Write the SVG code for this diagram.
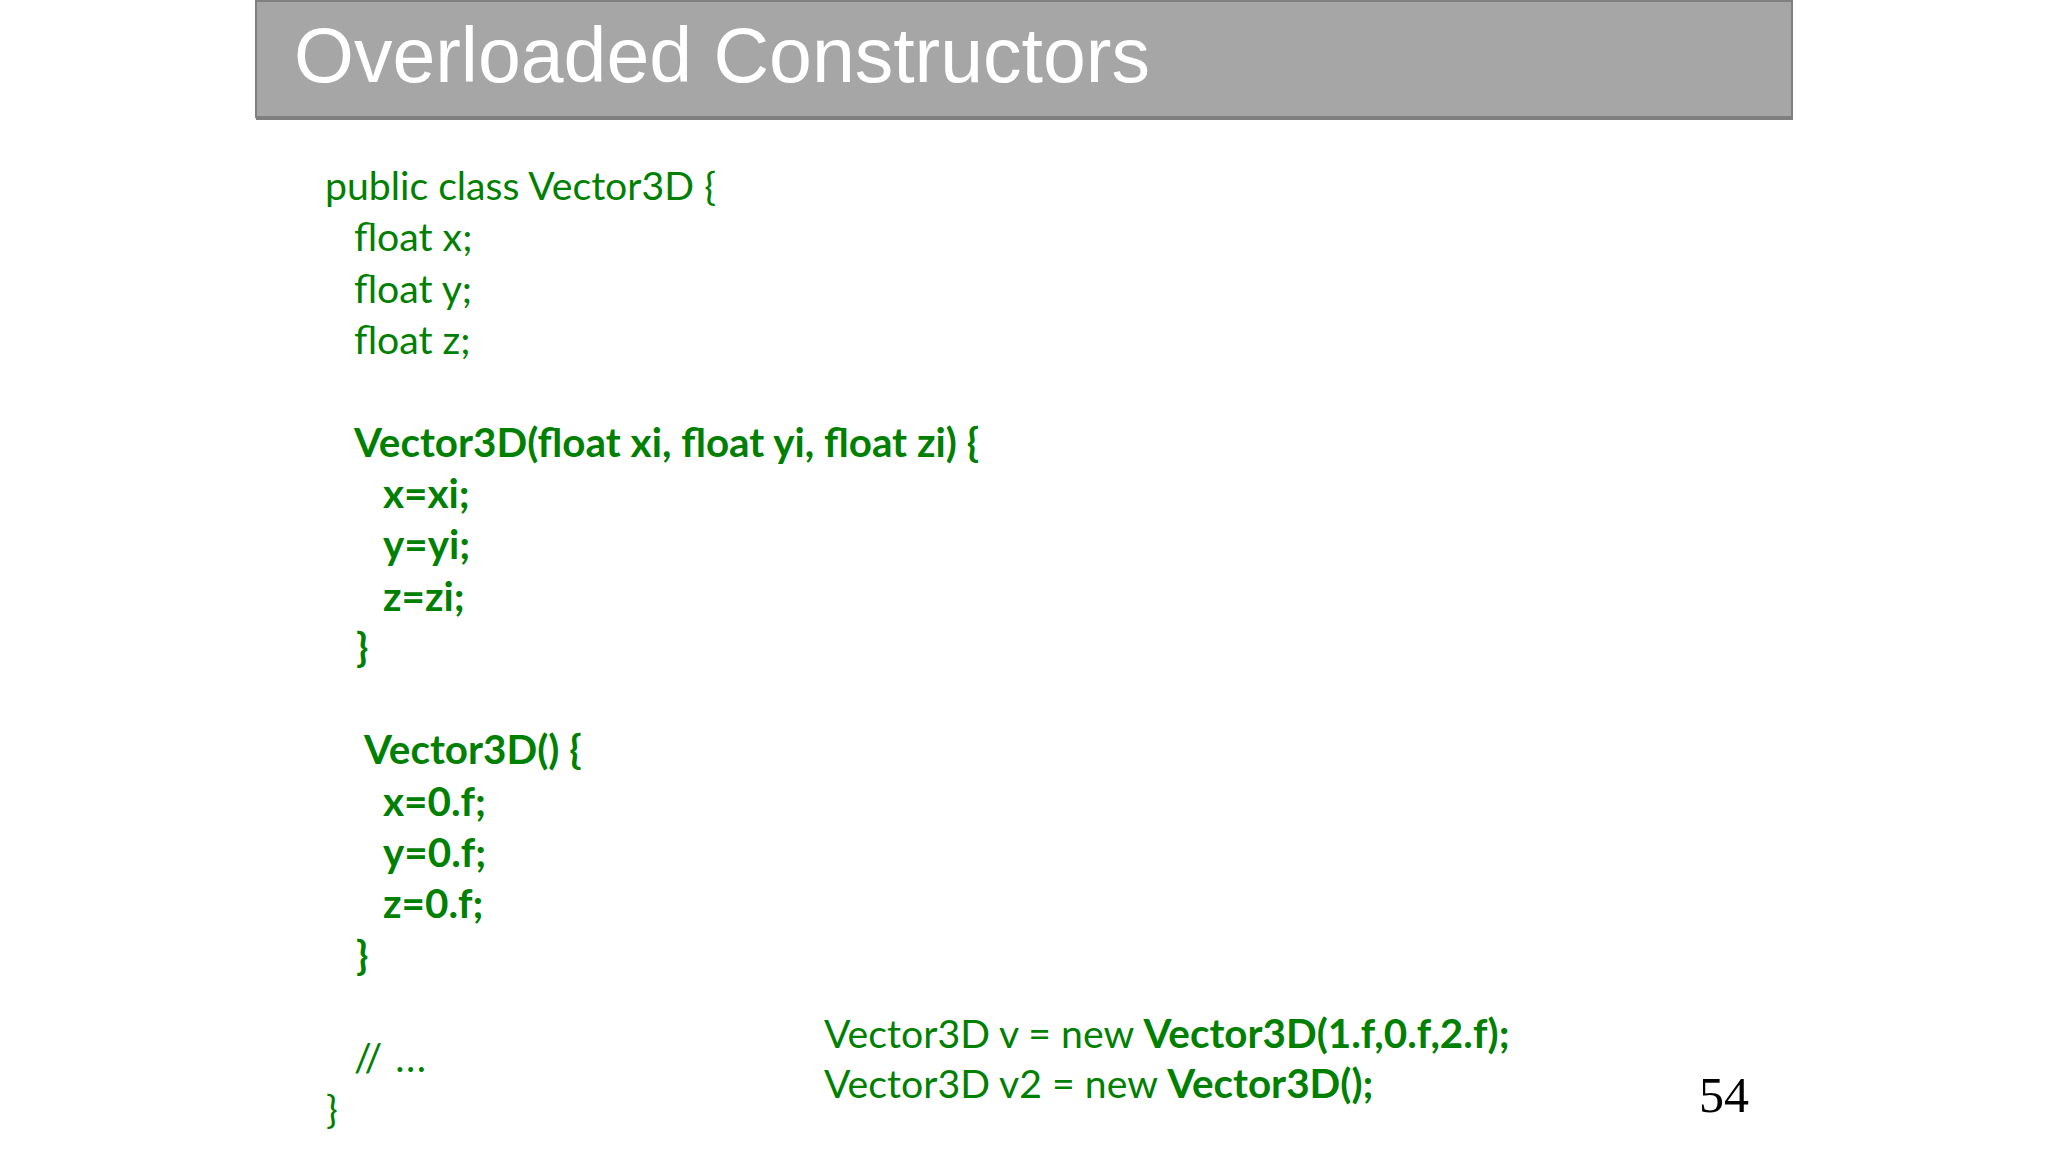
<svg xmlns="http://www.w3.org/2000/svg" width="2048" height="1152" viewBox="0 0 2048 1152">
<style>
.code{font-family:Lato,"Noto Sans",sans-serif;font-size:39.2px;fill:#008000}
.b{font-weight:bold;font-size:40.4px}
.title{font-family:"Liberation Sans",Arial,sans-serif;font-size:77px;fill:#ffffff}
.num{font-family:"Liberation Serif","Times New Roman",serif;font-size:50px;fill:#000000}
</style>
<rect width="2048" height="1152" fill="#ffffff"/>
<g id="title-bar">
<rect x="256" y="1" width="1536" height="116" fill="#a6a6a6" stroke="#808080" stroke-width="2"/>
<rect x="256" y="116" width="1537" height="4" fill="#7f7f7f"/>
<text class="title" x="294" y="82">Overloaded Constructors</text>
</g>
<g id="class-code">
<text class="code" x="325" y="200">public class Vector3D {</text>
<text class="code" x="354" y="251">float x;</text>
<text class="code" x="354" y="303">float y;</text>
<text class="code" x="354" y="354">float z;</text>
<text class="code b" x="354" y="457">Vector3D(float xi, float yi, float zi) {</text>
<text class="code b" x="383" y="508">x=xi;</text>
<text class="code b" x="383" y="559">y=yi;</text>
<text class="code b" x="383" y="611">z=zi;</text>
<text class="code b" x="356" y="662">}</text>
<text class="code b" x="364" y="764">Vector3D() {</text>
<text class="code b" x="383" y="816">x=0.f;</text>
<text class="code b" x="383" y="867">y=0.f;</text>
<text class="code b" x="383" y="918">z=0.f;</text>
<text class="code b" x="356" y="970">}</text>
<text class="code" x="354" y="1072" letter-spacing="1.5">// ...</text>
<text class="code" x="326" y="1123">}</text>
</g>
<g id="usage-code">
<text class="code" x="824" y="1048">Vector3D v = new <tspan class="b">Vector3D(1.f,0.f,2.f);</tspan></text>
<text class="code" x="824" y="1098">Vector3D v2 = new <tspan class="b">Vector3D();</tspan></text>
</g>
<g id="page-number">
<text class="num" x="1699" y="1112">54</text>
</g>
</svg>
